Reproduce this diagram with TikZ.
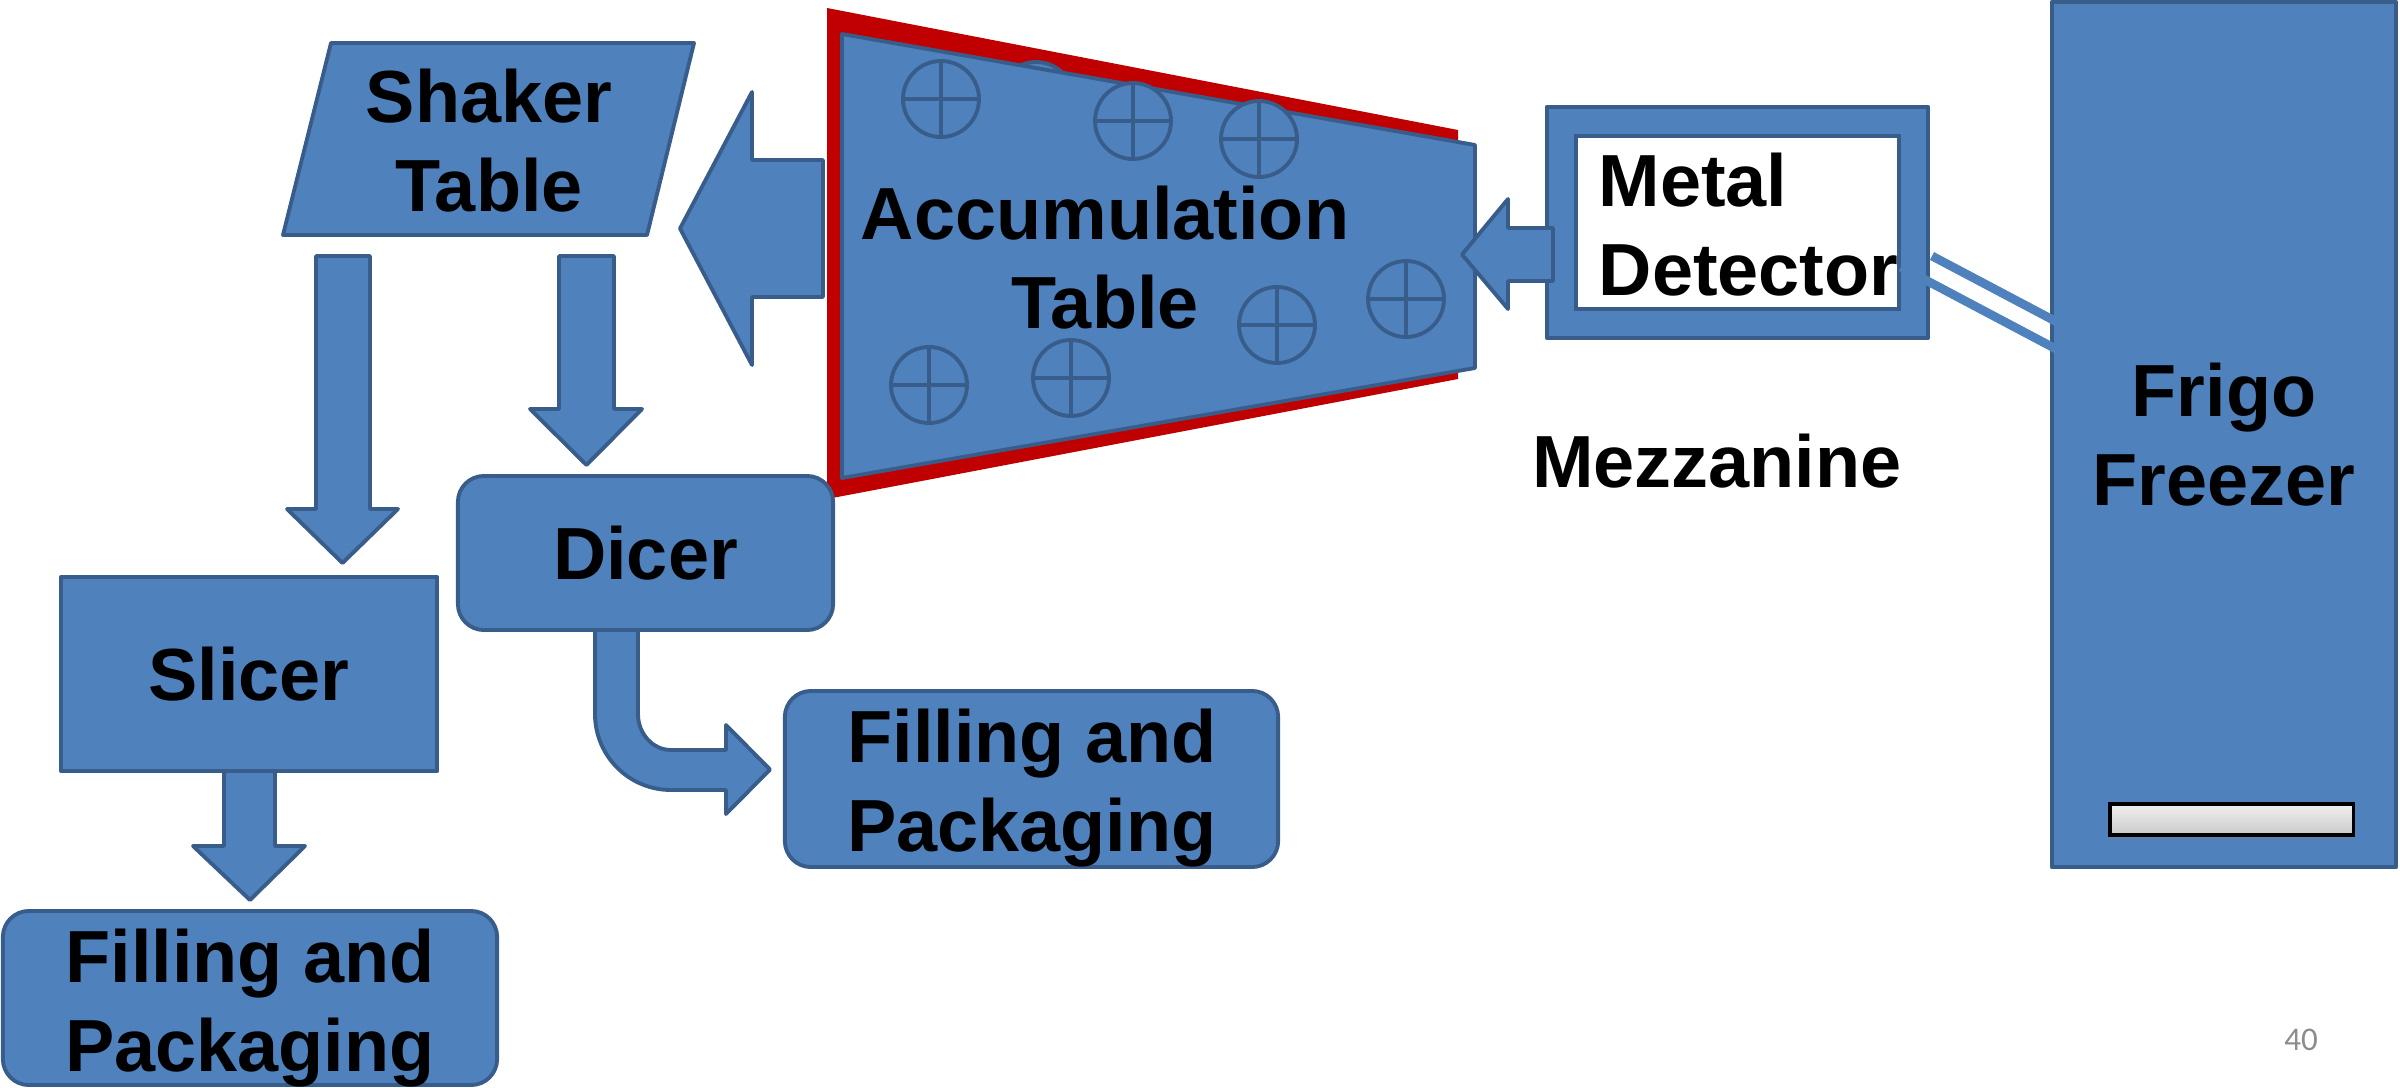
\documentclass[tikz,border=0pt]{standalone}
\usepackage{fontspec}
\setmainfont{Liberation Sans}
\newfontfamily\slidefont{Carlito}
\usetikzlibrary{shadows}

\definecolor{boxblue}{HTML}{4F81BD}
\definecolor{edgeblue}{HTML}{385D8A}
\definecolor{tablered}{HTML}{C00000}
\definecolor{pagegrey}{HTML}{8C8C8C}

\begin{document}
\begin{tikzpicture}[
  x=0.01cm, y=-0.01cm,
  every node/.style={inner sep=0pt, align=center, font=\fontsize{21}{25.3}\selectfont\bfseries},
  box/.style={draw=edgeblue, fill=boxblue, line width=1.1pt, line join=round},
  rounded box/.style={box, rounded corners=0.26cm},
  block/.style={draw=edgeblue, fill=boxblue, line width=1.1pt, line join=round},
  wheel/.style={draw=edgeblue, fill=boxblue, line width=1.1pt},
  handle/.style={draw=black, line width=0.9pt, top color=gray!12, bottom color=gray!42,
    drop shadow={shadow xshift=0pt, shadow yshift=-1.2pt, opacity=0.35}},
  cable/.style={draw=boxblue, line width=2.5pt}
  ]
  \useasboundingbox (0,0) rectangle (2400,1088);

  % Shaker table
  \draw[box] (331,43) -- (694,43) -- (647,235) -- (283,235) -- cycle;
  \node (shaker) at (489,141) {Shaker\\Table};

  % Block arrows out of the shaker table
  \draw[block] (316,256) -- (370,256) -- (370,509) -- (398,509) -- (342.5,563) -- (287,509) -- (316,509) -- cycle;
  \draw[block] (559,256) -- (614,256) -- (614,409) -- (642,409) -- (586.5,465) -- (530,409) -- (559,409) -- cycle;

  % Accumulation table -> shaker table
  \draw[block] (823,160) -- (823,297) -- (752,297) -- (752,365) -- (680,228.5) -- (752,92) -- (752,160) -- cycle;

  % Accumulation table: red frame, blue top, wheels
  \fill[tablered] (827,8) -- (1458,130) -- (1458,379) -- (827,499) -- cycle;
  \draw[wheel] (1036,100) circle[radius=38];
  \draw[box] (842,34) -- (1475,145) -- (1475,368) -- (842,478) -- cycle;
  \foreach \x/\y in {941/99, 1133/121, 1259/139, 929/385, 1071/378, 1277/325, 1406/299} {
    \draw[wheel] (\x,\y) circle[radius=38];
    \draw[wheel] (\x-38,\y) -- (\x+38,\y) (\x,\y-38) -- (\x,\y+38);
  }
  \node (accum) at (1105,258) {Accumulation\\Table};

  % Dicer and slicer
  \node[rounded box, minimum width=3.75cm, minimum height=1.54cm] (dicer) at (645.5,553) {Dicer};
  \node[box, minimum width=3.76cm, minimum height=1.94cm] (slicer) at (249,674) {Slicer};

  % Slicer -> packaging
  \draw[block] (224,771) -- (275,771) -- (275,846) -- (305,846) -- (250,900) -- (193,846) -- (224,846) -- cycle;

  % Dicer -> packaging, bent arrow
  \draw[block] (595,630) -- (595,714) .. controls (595,756) and (629,790) .. (671,790)
    -- (726,790) -- (726,814) -- (770,769.5) -- (726,725) -- (726,750) -- (671,750)
    .. controls (653,750) and (638,734) .. (638,714) -- (638,630) -- cycle;

  % Filling and packaging
  \node[rounded box, minimum width=4.94cm, minimum height=1.74cm] (pack1) at (250,998) {};
  \node (pack1 text) at (250,1008) {Filling and\\Packaging};
  \node[rounded box, minimum width=4.93cm, minimum height=1.76cm] (pack2) at (1031.5,779) {};
  \node (pack2 text) at (1032,788) {Filling and\\Packaging};

  % Metal detector
  \node[box, minimum width=3.81cm, minimum height=2.31cm] (metal) at (1737.5,222.5) {};
  \node[draw=edgeblue, fill=white, line width=1.1pt, minimum width=3.23cm, minimum height=1.73cm] (metal window) at (metal.center) {};
  \node[anchor=west, align=left] (metal text) at (1598,225) {Metal\\Detector};

  % Metal detector -> accumulation table
  \draw[block] (1553,228) -- (1553,281) -- (1508,281) -- (1508,309) -- (1462,254.5) -- (1508,199) -- (1508,228) -- cycle;

  % Frigo freezer
  \node[box, minimum width=3.44cm, minimum height=8.65cm] (freezer) at (2224,434.5) {Frigo\\Freezer};
  \node[handle, minimum width=2.43cm, minimum height=0.31cm] (door handle) at (2231.5,819.5) {};

  % Cable between metal detector and freezer
  \coordinate (cable a1) at (1932,256);
  \coordinate (cable b1) at (2072,330);
  \coordinate (cable a2) at (1901,267);
  \coordinate (cable b2) at (2056,349);
  \draw[cable] (cable a1) -- (cable b1);
  \draw[cable] (cable a2) -- (cable b2);

  \node[anchor=base] (mezz) at (1717,487) {Mezzanine};
  \node[font=\slidefont\fontsize{9.4}{11}\selectfont, text=pagegrey] (pageno) at (2301,1040) {40};
\end{tikzpicture}
\end{document}
